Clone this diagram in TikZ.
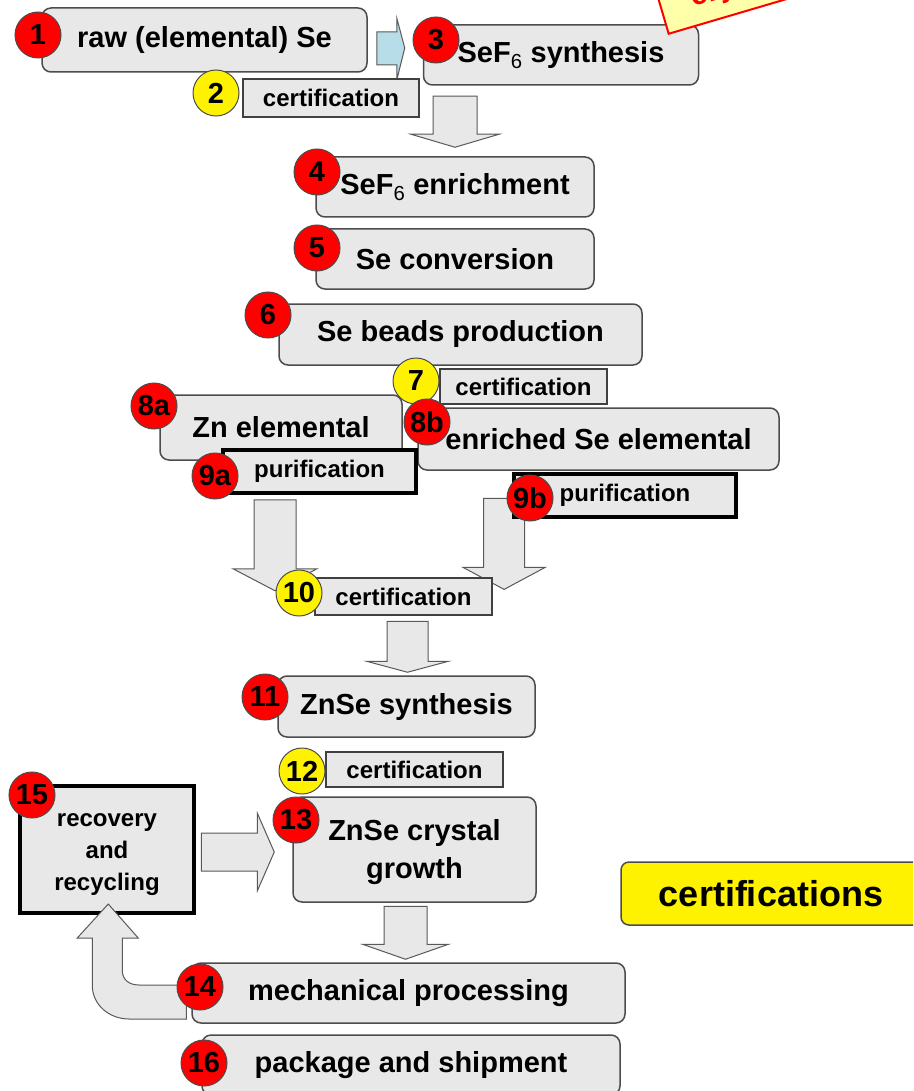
\documentclass[tikz,border=0pt]{standalone}
\usepackage{fontspec}
\setmainfont{Liberation Sans}
\usetikzlibrary{backgrounds}

\definecolor{boxgray}{RGB}{232,232,232}
\definecolor{paleblue}{RGB}{183,221,232}
\definecolor{noteyellow}{RGB}{255,255,170}

\tikzset{
  pics/downArrow/.style n args={3}{code={
    \draw[blockarrow] (-#1,0) -- (#1,0) -- (#1,#2) -- (2*#1,#2) -- (0,#3) -- (-2*#1,#2) -- (-#1,#2) -- cycle;}}
}

\begin{document}
\begin{tikzpicture}[
  x=1pt, y=-1pt,
  every node/.style={align=center, inner sep=0pt},
  stepbox/.style={rounded corners=9pt, fill=boxgray, draw=black!70, line width=1.5pt, font=\fontsize{29}{36}\selectfont\bfseries},
  certbox/.style={fill=boxgray, draw=black!75, line width=1.2pt, font=\fontsize{24}{28}\selectfont\bfseries},
  purifbox/.style={fill=boxgray, draw=black, line width=4.5pt, font=\fontsize{24}{32}\selectfont\bfseries},
  redball/.style={circle, fill=red, draw=black!70, line width=1pt, minimum size=46pt, font=\fontsize{29}{29}\selectfont\bfseries},
  yellowball/.style={redball, fill=yellow},
  blockarrow/.style={fill=boxgray, draw=black!65, line width=1pt},
  legendbox/.style={rounded corners=8pt, fill=yellow, draw=black!70, line width=1.5pt, font=\fontsize{36}{40}\selectfont\bfseries},
  notebox/.style={fill=noteyellow, draw=red, line width=2pt, text=red, font=\fontsize{30}{34}\selectfont\bfseries}]

\useasboundingbox (0,0) rectangle (913,1091);
\clip (0,0) rectangle (913,1091);

% Process steps
\node[stepbox, minimum width=325pt, minimum height=64pt] (rawSe) at (204.5,40) {raw (elemental) Se};
\node[certbox, minimum width=176pt, minimum height=38pt] (certOne) at (331,98) {certification};
\node[stepbox, minimum width=275pt, minimum height=60pt] (sefSynth) at (561,55) {SeF\textsubscript{\mdseries 6} synthesis};
\node[stepbox, minimum width=278pt, minimum height=60pt] (sefEnrich) at (455,187) {SeF\textsubscript{\mdseries 6} enrichment};
\node[stepbox, minimum width=278pt, minimum height=60pt] (seConv) at (455,259) {Se conversion};
\node[stepbox, minimum width=363pt, minimum height=61pt] (seBeads) at (460.5,334.5) {Se beads production};
\node[certbox, minimum width=167pt, minimum height=35pt] (certTwo) at (523.5,386.5) {certification};
\node[stepbox, minimum width=242pt, minimum height=65pt] (znElem) at (281,427.5) {Zn elemental};
\node[stepbox, minimum width=361pt, minimum height=62pt] (seElem) at (598.5,439) {enriched Se elemental};
\node[purifbox, minimum width=193pt, minimum height=43pt] (purifZn) at (319.5,471.5) {purification};
\node[purifbox, minimum width=222pt, minimum height=43pt] (purifSe) at (625,495.5) {purification};
\node[certbox, minimum width=177pt, minimum height=37pt] (certThree) at (403.5,596.5) {certification};
\node[stepbox, minimum width=257pt, minimum height=61pt] (znseSynth) at (406.5,706.5) {ZnSe synthesis};
\node[certbox, minimum width=177pt, minimum height=35pt] (certFour) at (414.5,769.5) {certification};
\node[stepbox, minimum width=243pt, minimum height=105pt, font=\fontsize{29}{38}\selectfont\bfseries] (crystal) at (414.5,849.5) {\strut ZnSe crystal\\growth};
\node[purifbox, minimum width=174pt, minimum height=127pt] (recycle) at (107,849.5) {\strut recovery\\and\\recycling};
\node[stepbox, minimum width=433pt, minimum height=60pt] (mechProc) at (408.5,993) {mechanical processing};
\node[stepbox, minimum width=418pt, minimum height=60pt] (shipment) at (411,1065) {package and shipment};
\node[legendbox, minimum width=300pt, minimum height=63pt] (certLegend) at (771,893.5) {certifications};

% Block arrows behind the boxes
\begin{scope}[on background layer]
\pic at ([yshift=60pt]sefEnrich.north) {downArrow={22}{38}{51}};
\pic at ([xshift=-6pt,yshift=-39pt]znElem.south) {downArrow={21}{69}{91}};
\pic at ([xshift=11.5pt,yshift=79pt]certThree.north east) {downArrow={20.5}{69}{91}};
\pic at ([xshift=1pt,yshift=54pt]znseSynth.north) {downArrow={20.5}{40}{51}};
\pic at ([xshift=-3pt,yshift=56pt]mechProc.north) {downArrow={21.5}{38}{53}};
\draw[blockarrow, fill=paleblue] ([xshift=9pt,yshift=8pt]rawSe.east) -- ++(20,0) -- ++(0,-14) -- ++(8,30) -- ++(-8,32) -- ++(0,-15) -- ++(-20,0) -- cycle;
\draw[blockarrow] ([xshift=5pt,yshift=16.5pt]recycle.east) -- ++(56,0) -- ++(0,-20) -- ++(17,39) -- ++(-17,39) -- ++(0,-20) -- ++(-56,0) -- cycle;
\end{scope}

% Return arrow to recovery
\begin{scope}[shift={(mechProc.west)}]
\draw[blockarrow] (-5,-8) -- (-52,-8) .. controls (-62,-8) and (-69,-13) .. (-69,-23) -- (-69,-55) -- (-53,-55) -- (-83,-89) -- (-114,-55) -- (-99,-55) -- (-99,-8) .. controls (-99,12) and (-82,26) .. (-62,26) -- (-5,26) -- cycle;
\end{scope}

% Numbered balls
\node[redball] (ballOne) at (38,35) {1};
\node[yellowball] (ballTwo) at (216,93) {2};
\node[redball] (ballThree) at (436,40) {3};
\node[redball] (ballFour) at (317,172) {4};
\node[redball] (ballFive) at (317,248) {5};
\node[redball] (ballSix) at (268,315) {6};
\node[yellowball] (ballSeven) at (416,381) {7};
\node[redball] (ballEightA) at (154,406) {8a};
\node[redball] (ballEightB) at (427,422) {8b};
\node[redball] (ballNineA) at (215,476) {9a};
\node[redball] (ballNineB) at (530,498) {9b};
\node[yellowball] (ballTen) at (299,593) {10};
\node[redball] (ballEleven) at (265,697) {11};
\node[yellowball] (ballTwelve) at (302,771) {12};
\node[redball] (ballThirteen) at (296,820) {13};
\node[redball] (ballFourteen) at (200,987) {14};
\node[redball] (ballFifteen) at (32,795) {15};
\node[redball] (ballSixteen) at (204,1063) {16};

% Tilted note, cut by the top edge
\node[notebox, rotate=16.4, anchor=south west, text width=260pt, align=left, inner xsep=31pt, minimum height=48pt] (cryoNote) at (668,35) {cry};

\end{tikzpicture}
\end{document}
